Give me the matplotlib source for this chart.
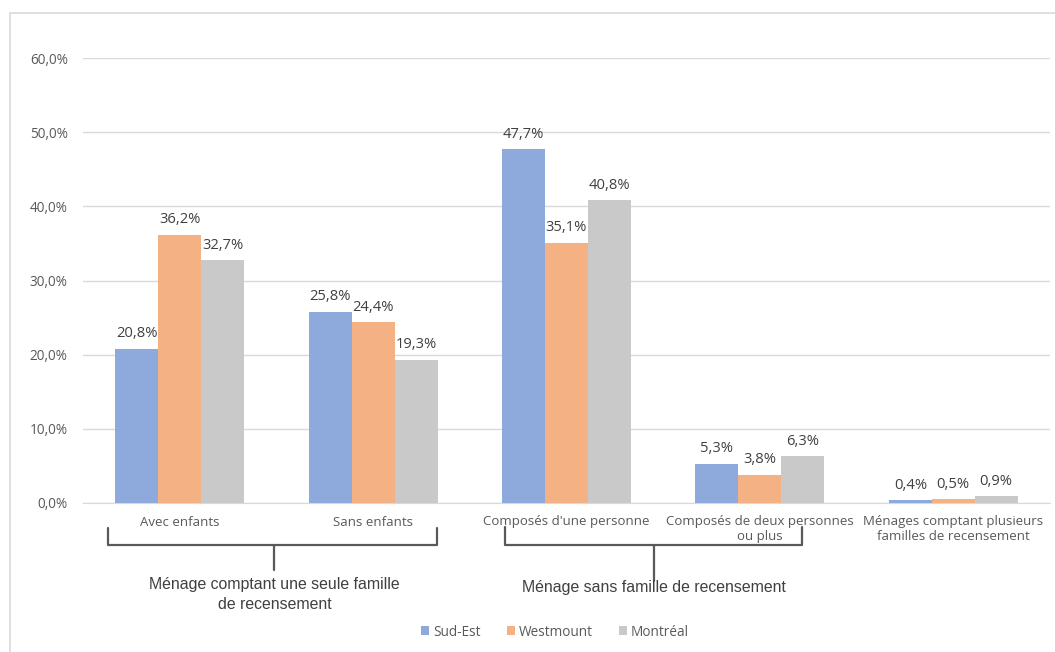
import numpy as np
import matplotlib.pyplot as plt
from matplotlib.ticker import FuncFormatter, MultipleLocator
from matplotlib.patches import Rectangle

categories = ["Avec enfants", "Sans enfants", "Composés d'une personne",
              "Composés de deux personnes\nou plus",
              "Ménages comptant plusieurs\nfamilles de recensement"]
sud_est = [20.8, 25.8, 47.7, 5.3, 0.4]
westmount = [36.2, 24.4, 35.1, 3.8, 0.5]
montreal = [32.7, 19.3, 40.8, 6.3, 0.9]
series_names = ["Sud-Est", "Westmount", "Montréal"]
colors = ["#8EA9DB", "#F4B183", "#C9C9C9"]

group1 = "Ménage comptant une seule famille\nde recensement"
group2 = "Ménage sans famille de recensement"

plt.rcParams["font.family"] = ["Open Sans", "DejaVu Sans"]
bracket_font = ["Liberation Sans", "DejaVu Sans"]

fig = plt.figure(figsize=(10.55, 6.52), dpi=100)
ax = fig.add_axes([83/1055, 1 - 503/652, (1050 - 83)/1055, (503 - 58)/652])

# outer chart frame
fig.patches.append(Rectangle((10/1055, -0.01), 1.1, 1 - 13/652 + 0.01,
                             transform=fig.transFigure, fill=False,
                             edgecolor="#D9D9D9", linewidth=1.2))

x = np.arange(len(categories))
w = 0.222
for i, (vals, name, c) in enumerate(zip([sud_est, westmount, montreal], series_names, colors)):
    pos = x + (i - 1) * w
    bars = ax.bar(pos, vals, width=w, color=c, label=name, zorder=3)
    for b, v in zip(bars, vals):
        ax.text(b.get_x() + b.get_width()/2, v + 1.0, f"{v:.1f}%".replace(".", ","),
                ha="center", va="bottom", fontsize=10.6, color="#404040")

ax.set_xlim(-0.5, len(categories) - 0.5)
ax.set_ylim(0, 60)
ax.yaxis.set_major_locator(MultipleLocator(10))
ax.yaxis.set_major_formatter(FuncFormatter(lambda v, p: f"{v:.1f}%".replace(".", ",")))
ax.grid(axis="y", color="#D9D9D9", linewidth=1, zorder=0)
for s in ["top", "right", "left"]:
    ax.spines[s].set_visible(False)
ax.spines["bottom"].set_color("#D9D9D9")
ax.tick_params(axis="y", length=0, pad=11, labelsize=9.8, labelcolor="#595959")
ax.tick_params(axis="x", length=0, pad=9, labelsize=9.5, labelcolor="#595959")
ax.set_xticks(x)
ax.set_xticklabels(categories, linespacing=1.15)

# brackets under the categories
tr = ax.get_xaxis_transform()
def bracket(x0, x1, xm, ytop, ybar, ytail):
    kw = dict(transform=tr, clip_on=False, color="#595959", linewidth=1.6,
              solid_joinstyle="round", solid_capstyle="round")
    ax.plot([x0, x0, x1, x1], [ytop, ybar, ybar, ytop], **kw)
    ax.plot([xm, xm], [ybar, ytail], **kw)

bracket(-0.37, 1.33, 0.49, -0.056, -0.094, -0.15)
bracket(1.68, 3.22, 2.45, -0.054, -0.094, -0.175)

ax.text(0.49, -0.167, group1, transform=tr, ha="center", va="top",
        fontsize=11.4, color="#404040", family=bracket_font, linespacing=1.35)
ax.text(2.45, -0.191, group2, transform=tr, ha="center", va="center",
        fontsize=11.4, color="#404040", family=bracket_font)

fig.legend(loc="center", bbox_to_anchor=(555/1055, 1 - 632/652), ncol=3,
           frameon=False, handlelength=0.6, handleheight=0.6, handletextpad=0.3,
           columnspacing=1.9, fontsize=9.8, labelcolor="#595959")

fig.savefig("out.png", dpi=100)
